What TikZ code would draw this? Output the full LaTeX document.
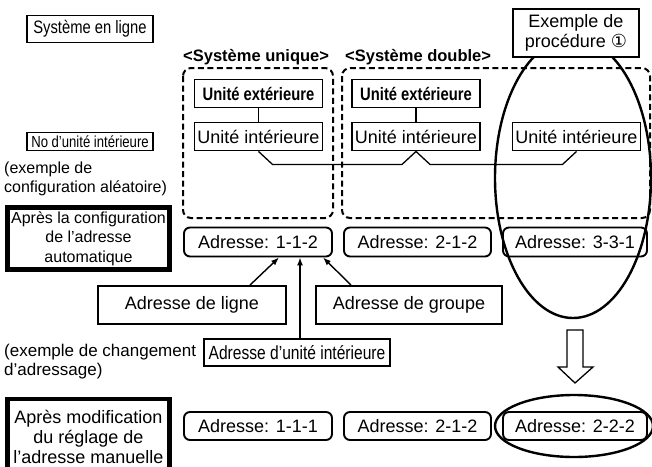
\documentclass[tikz,border=0pt]{standalone}
\usepackage{fontspec}
\setmainfont{Liberation Sans}
\newfontfamily\narrowfont[FakeStretch=0.82]{Liberation Sans}
\newfontfamily\symbolfont{DejaVu Sans}
\usetikzlibrary{arrows.meta}

\begin{document}
\begin{tikzpicture}[x=1pt,y=-1pt,
    tagbox/.style={draw,line width=1.9pt,inner sep=0pt,align=center},
    heavybox/.style={draw,line width=4.8pt,inner sep=0pt,align=center,
                     minimum width=162pt},
    unitbox/.style={draw,line width=1.9pt,inner sep=0pt,minimum width=128pt,
                    minimum height=28pt},
    addrbox/.style={draw,line width=1.9pt,rounded corners=6pt,inner sep=0pt,
                    minimum height=28pt,font=\fontsize{18}{20}\selectfont},
    grp/.style={draw,line width=2pt,dash pattern=on 6pt off 3.5pt,
                rounded corners=8pt},
    title/.style={inner sep=0pt,anchor=south west,
                  font=\bfseries\fontsize{16.5}{18}\selectfont},
    note/.style={inner sep=0pt,anchor=north west,align=left},
    ring/.style={line width=2.4pt},
    bus/.style={line width=1.3pt},
    arr/.style={-{Latex[length=8pt,width=6pt]},line width=1.4pt}]
  \useasboundingbox (0,0) rectangle (652,466);
  \clip (0,0) rectangle (652,466);

  \node[tagbox,minimum width=126pt,minimum height=27pt,
        font=\narrowfont\fontsize{18}{20}\selectfont] (sysline) at (90,29) {Système en ligne};
  \node[tagbox,minimum width=126pt,minimum height=18pt,
        font=\narrowfont\fontsize{16}{18}\selectfont] (nounit) at (90,141.5) {No d’unité intérieure};
  \node[note,font=\fontsize{16}{18.5}\selectfont] (ex1) at (4,162) {(exemple de\\configuration aléatoire)};
  \node[heavybox,minimum height=62pt,font=\fontsize{16}{19.5}\selectfont] (auto) at (88.5,238.5)
    {Après la configuration\\de l’adresse\\automatique};

  \node[title] (tsingle) at (183,65) {<Système unique>};
  \node[title] (tdouble) at (345,65) {<Système double>};
  \draw[grp] (183,68) rectangle (333,218);
  \draw[grp] (342,68) rectangle (650,218);

  \node[unitbox,font=\narrowfont\bfseries\fontsize{18}{20}\selectfont] (ext1) at (258.5,93.5) {Unité extérieure};
  \node[unitbox,font=\narrowfont\bfseries\fontsize{18}{20}\selectfont] (ext2) at (416,93.5) {Unité extérieure};
  \node[unitbox,font=\fontsize{18}{20}\selectfont] (int1) at (258.5,136.5) {Unité intérieure};
  \node[unitbox,font=\fontsize{18}{20}\selectfont] (int2) at (416,136.5) {Unité intérieure};
  \node[unitbox,font=\fontsize{18}{20}\selectfont] (int3) at (576.5,136.5) {Unité intérieure};
  \draw[bus] (ext1) -- (int1);
  \draw[bus] (ext2) -- (int2);
  \draw[bus] (int1.south) -- ++(14,13) -- ([shift={(-14pt,-13pt)}]int2.south) -- (int2.south)
    -- ++(14,13) -- ([shift={(-14pt,-13pt)}]int3.south) -- (int3.south);

  \node[addrbox,minimum width=148pt,minimum height=29pt] (a1) at (258,242) {Adresse: 1-1-2};
  \node[addrbox,minimum width=147pt,minimum height=29pt] (a2) at (417.5,242) {Adresse: 2-1-2};
  \node[addrbox,minimum width=144pt,minimum height=29pt] (a3) at (575,242) {Adresse: 3-3-1};

  \draw[ring] (573,178) ellipse [x radius=78pt,y radius=140pt];
  \node[tagbox,fill=white,minimum width=126pt,minimum height=48pt,
        font=\fontsize{18}{20}\selectfont] (proc) at (576,33) {Exemple de\\procédure {\symbolfont ①}};

  \node[tagbox,minimum width=188pt,minimum height=38pt,font=\fontsize{18}{20}\selectfont] (ligne) at (192,305) {Adresse de ligne};
  \node[tagbox,minimum width=186pt,minimum height=38pt,font=\fontsize{18}{20}\selectfont] (groupe) at (409,305) {Adresse de groupe};
  \node[tagbox,minimum width=186pt,minimum height=27pt,
        font=\narrowfont\fontsize{19}{20}\selectfont] (iu) at (297,352.5) {Adresse d’unité intérieure};
  \draw[arr] ([xshift=58pt]ligne.north) -- ([xshift=21pt]a1.south);
  \draw[arr] ([xshift=3pt]iu.north) -- ([xshift=3pt]iu.north |- a1.south);
  \draw[arr] ([xshift=-58pt]groupe.north) -- ([xshift=65pt]a1.south);

  \node[note,font=\fontsize{17}{18.5}\selectfont] (ex2) at (4,344) {(exemple de changement\\d’adressage)};
  \node[heavybox,minimum height=75pt,font=\fontsize{18}{20}\selectfont] (manual) at (88.5,436.5)
    {Après modification\\du réglage de\\l’adresse manuelle};

  \node[addrbox,minimum width=148pt] (b1) at (258,426) {Adresse: 1-1-1};
  \node[addrbox,minimum width=147pt] (b2) at (417.5,426) {Adresse: 2-1-2};
  \node[addrbox,minimum width=144pt] (b3) at (575,426) {Adresse: 2-2-2};
  \draw[ring] (574,426) ellipse [x radius=79pt,y radius=31pt];

  \draw[line width=1.3pt] (567,330) -- (583,330) -- (583,367) -- (593,367) -- (575,383)
    -- (558,367) -- (567,367) -- cycle;
\end{tikzpicture}
\end{document}
